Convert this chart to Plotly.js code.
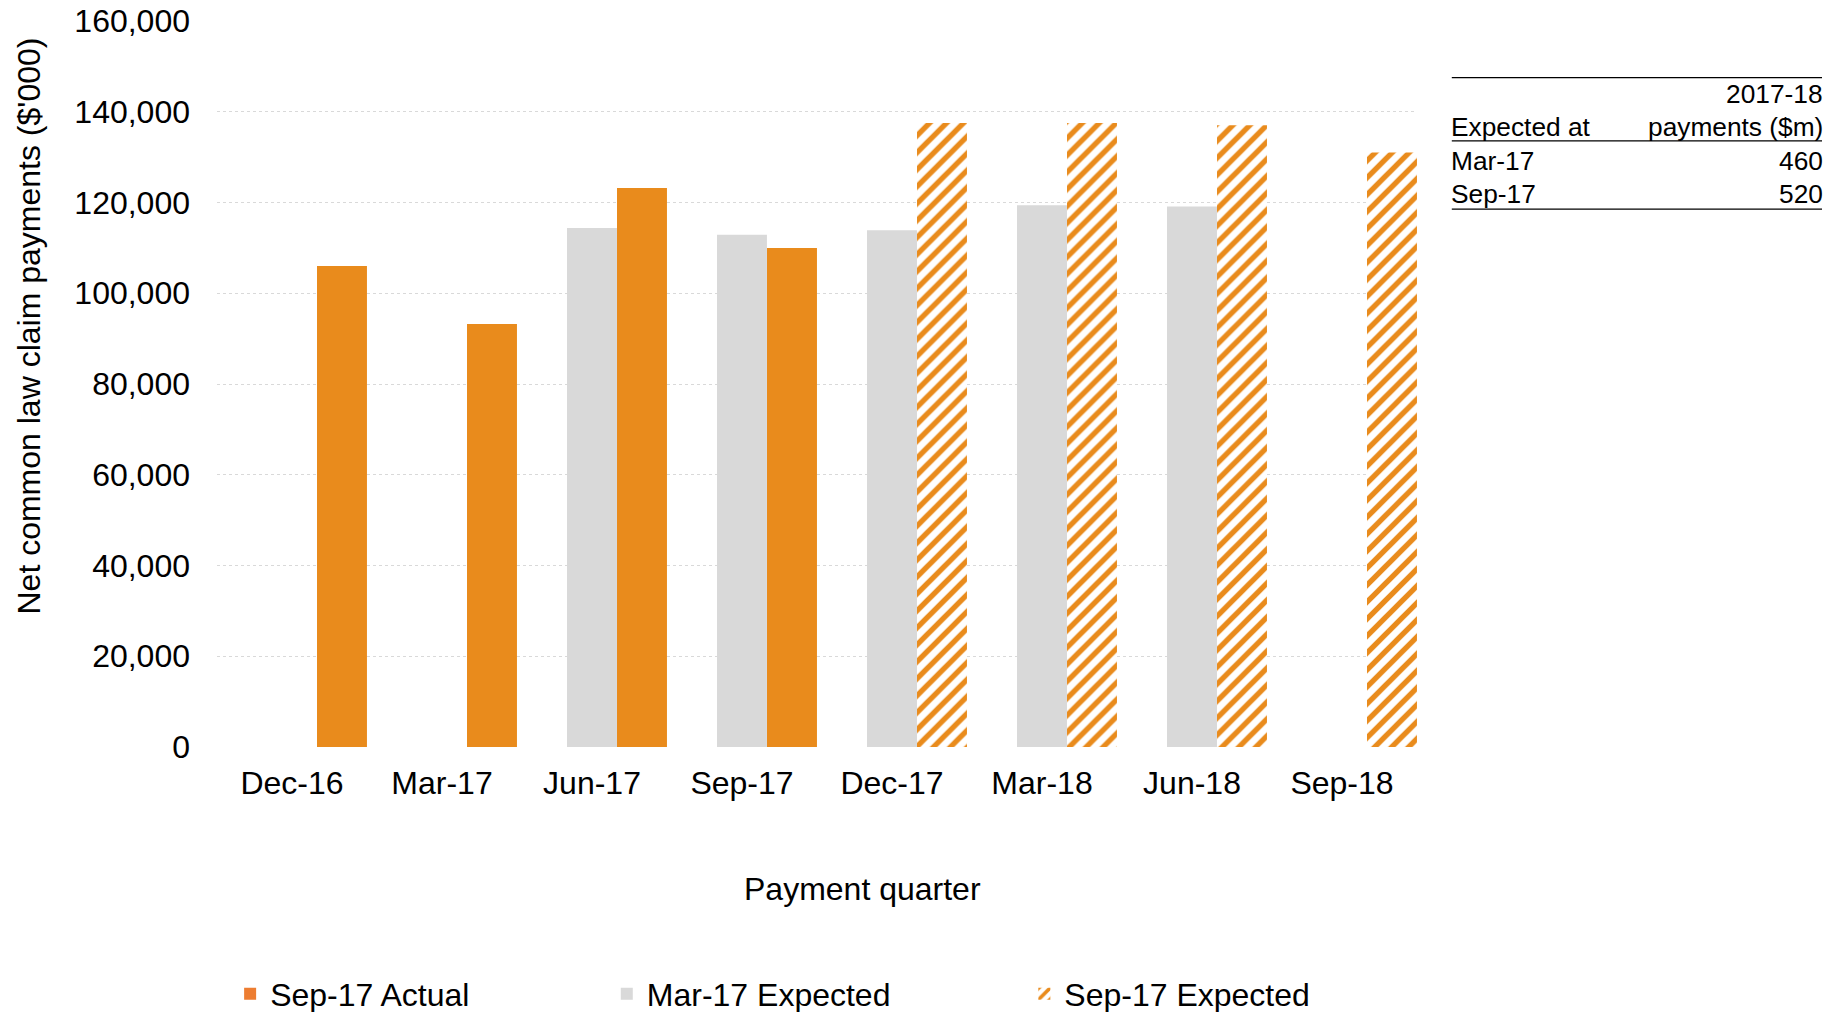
<!DOCTYPE html>
<html>
<head>
<meta charset="utf-8">
<script src="https://cdn.plot.ly/plotly-3.0.1.min.js"></script>
<style>html,body{margin:0;padding:0;background:#fff;overflow:hidden;}#chart{width:1841px;height:1012px;}</style>
</head>
<body>
<div id="chart"></div>
<script>
var quarters = ["Dec-16","Mar-17","Jun-17","Sep-17","Dec-17","Mar-18","Jun-18","Sep-18"];
var sep17Actual = [106000, 93200, 123200, 110000, null, null, null, null];
var mar17Expected = [null, null, 114400, 112900, 113900, 119400, 119100, null];
var sep17Expected = [null, null, null, null, 137500, 137500, 137000, 131000];

var tableHeader = ["Expected at", "2017-18", "payments ($m)"];
var tableRows = ["Mar-17", "Sep-17"];
var tableValues = ["460", "520"];

var FONT = "Liberation Sans, Arial, sans-serif";
var FS = 32;
var TFS = 26.3;
var ORANGE = "#E98B1C";
var LEGEND_ORANGE = "#ED7D31";
var GREY = "#D9D9D9";

var traces = [
  {type: "bar", name: "Sep-17 Actual", x: quarters, y: sep17Actual,
   offset: 0.1667, width: 0.333, marker: {color: ORANGE, line: {width: 0}},
   legend: "legend", showlegend: false, legendgroup: "actual", hoverinfo: "x+y+name"},
  {type: "bar", name: "Sep-17 Actual", x: [quarters[0]], y: [null],
   offset: 0.1667, width: 0.333, marker: {color: LEGEND_ORANGE, line: {width: 0}},
   legend: "legend", showlegend: true, legendgroup: "actual", hoverinfo: "skip"},
  {type: "bar", name: "Mar-17 Expected", x: quarters, y: mar17Expected,
   offset: -0.1667, width: 0.333, marker: {color: GREY, line: {width: 0}},
   legend: "legend2", hoverinfo: "x+y+name"},
  {type: "bar", name: "Sep-17 Expected", x: quarters, y: sep17Expected,
   offset: 0.1667, width: 0.333,
   marker: {color: ORANGE, line: {width: 0},
            pattern: {shape: "/", fgcolor: ORANGE, bgcolor: "#FFFFFF", size: 12, solidity: 0.45, fillmode: "replace"}},
   legend: "legend3", hoverinfo: "x+y+name"}
];

var lx0 = 1.029, lx1 = 1.3375;   // table rule extent
var tx0 = 1.027, tx1 = 1.340;    // table text anchors
var annotations = [
  {text: "Net common law claim payments ($'000)", xref: "paper", yref: "paper", x: -0.157, y: 0.58,
   textangle: -90, showarrow: false, xanchor: "center", yanchor: "middle", font: {family: FONT, size: FS, color: "#000"}},
  {text: "Payment quarter", xref: "paper", yref: "paper", x: 0.5375, y: -0.1956,
   showarrow: false, xanchor: "center", yanchor: "middle", font: {family: FONT, size: FS, color: "#000"}},
  {text: tableHeader[1], xref: "paper", yref: "paper", x: tx1, y: 0.899, showarrow: false, xanchor: "right", yanchor: "middle", font: {family: FONT, size: TFS, color: "#000"}},
  {text: tableHeader[0], xref: "paper", yref: "paper", x: tx0, y: 0.854, showarrow: false, xanchor: "left", yanchor: "middle", font: {family: FONT, size: TFS, color: "#000"}},
  {text: tableHeader[2], xref: "paper", yref: "paper", x: tx1, y: 0.854, showarrow: false, xanchor: "right", yanchor: "middle", font: {family: FONT, size: TFS, color: "#000"}}
];
var rowY = [0.807, 0.762];
tableRows.forEach(function(r, i) {
  annotations.push({text: r, xref: "paper", yref: "paper", x: tx0, y: rowY[i], showarrow: false, xanchor: "left", yanchor: "middle", font: {family: FONT, size: TFS, color: "#000"}});
  annotations.push({text: tableValues[i], xref: "paper", yref: "paper", x: tx1, y: rowY[i], showarrow: false, xanchor: "right", yanchor: "middle", font: {family: FONT, size: TFS, color: "#000"}});
});

var shapes = [0.922, 0.835, 0.741].map(function(yy) {
  return {type: "line", xref: "paper", yref: "paper", x0: lx0, x1: lx1, y0: yy, y1: yy, line: {color: "#000", width: 1.3}};
});

function leg(x) {
  return {orientation: "h", xref: "container", yref: "container", x: x, y: 0.0178, xanchor: "left", yanchor: "middle",
          bgcolor: "rgba(0,0,0,0)", borderwidth: 0, font: {family: FONT, size: FS, color: "#000"}};
}

var layout = {
  width: 1841, height: 1012,
  margin: {l: 217, r: 424, t: 21, b: 265, autoexpand: false},
  paper_bgcolor: "#FFFFFF", plot_bgcolor: "#FFFFFF",
  barmode: "overlay",
  showlegend: true,
  font: {family: FONT, size: FS, color: "#000"},
  xaxis: {type: "category", range: [-0.5, 7.5], showgrid: false, zeroline: false, showline: false, ticks: "",
          tickfont: {family: FONT, size: FS, color: "#000"}, ticklabelstandoff: 14, fixedrange: true},
  yaxis: {range: [0, 160000], dtick: 20000, tickformat: ",d", showgrid: true, gridcolor: GREY, griddash: "dot", gridwidth: 1,
          zeroline: false, showline: false, ticks: "", tickfont: {family: FONT, size: FS, color: "#000"},
          ticklabelstandoff: 26, fixedrange: true},
  legend: leg(0.125),
  legend2: leg(0.3296),
  legend3: leg(0.5564),
  annotations: annotations,
  shapes: shapes
};

Plotly.newPlot("chart", traces, layout, {displayModeBar: false, staticPlot: true});
</script>
</body>
</html>
